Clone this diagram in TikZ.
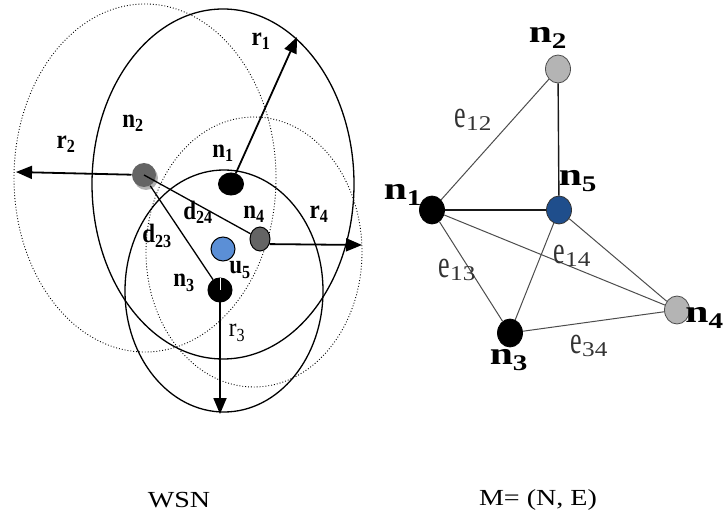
\documentclass[tikz,border=0pt]{standalone}
\usepackage{fontspec}
\setmainfont{Liberation Serif}
\usetikzlibrary{shapes.geometric,arrows.meta}
\definecolor{nodeblue}{HTML}{5B8FD6}
\definecolor{darkblue}{HTML}{1F4E8C}
\definecolor{darkgr}{HTML}{646464}
\definecolor{lightgr}{HTML}{B4B4B4}
\newcommand\mylab[2]{\scalebox{1}[1.15]{\fontsize{23}{24}\selectfont\bfseries #1\textsubscript{#2}}}
\newcommand\mylabr[2]{\scalebox{1}[1.15]{\fontsize{23}{24}\selectfont #1\textsubscript{#2}}}
\newcommand\grlab[2]{\scalebox{1.3}[1]{\fontsize{32}{32}\selectfont\bfseries #1\textsubscript{#2}}}
\newcommand\edlab[1]{\textcolor{black!80}{\scalebox{1}[1.5]{\fontsize{26}{26}\selectfont e}\raisebox{-3pt}{\scalebox{1.2}[1]{\fontsize{21}{22}\selectfont #1}}}}
\newcommand\captxt[1]{\scalebox{1.22}[1]{\fontsize{23}{24}\selectfont #1}}
\begin{document}
\begin{tikzpicture}[x=1pt,y=-1pt,
  rng/.style={line width=1.3pt},
  rngd/.style={line width=0.9pt, dotted},
  arr/.style={line width=1.8pt,-{Triangle[length=16pt,width=13pt]}},
  dl/.style={line width=1.3pt},
  lab/.style={inner sep=0pt},
  sdot/.style={ellipse, draw=black, line width=1pt, inner sep=0pt},
  gdot/.style={ellipse, draw=black!70, line width=0.8pt, inner sep=0pt, minimum width=25pt, minimum height=28pt},
  conn/.style={line width=1pt, draw=black!70}
]
\useasboundingbox (0,0) rectangle (725,521);

% ---- left: ranges ----
\draw[rngd] (145,178) ellipse [x radius=131pt, y radius=174pt];
\draw[rngd] (254,252) ellipse [x radius=108pt, y radius=135pt];
\draw[rng] (223,184) ellipse [x radius=131pt, y radius=175pt];
\draw[rng] (224,291) ellipse [x radius=99pt, y radius=121pt];

% ---- left: sensor nodes ----
\fill[black!30] (146,178) circle [radius=12pt];
\node[sdot, draw=none, fill=darkgr, minimum width=24pt, minimum height=24pt] (n2) at (144,175) {};
\node[sdot, fill=black, minimum width=25pt, minimum height=22pt] (n1) at (231,184) {};
\node[sdot, fill=darkgr, minimum width=20pt, minimum height=24pt] (n4) at (260,239) {};
\node[sdot, fill=nodeblue, minimum width=24pt, minimum height=24pt] (u5) at (223,249) {};
\node[sdot, fill=black, minimum width=24pt, minimum height=24pt] (n3) at (220,290) {};
\draw[white, line width=1pt] (n3.north) -- (n3.south);

\coordinate (r1end) at (297,37);
\coordinate (r2end) at (16,172);
\coordinate (r4end) at (362,245);
\coordinate (r3end) at (220,414);

\draw[arr] (n1) -- (r1end);
\draw[arr] (n2) -- (r2end);
\draw[arr] (n4.-28) -- (r4end);
\draw[arr] (n3.center) -- (r3end);
\draw[dl] (n2.center) -- (n4);
\draw[dl] (n2.-60) -- (n3);

\node[lab] at (261,41) {\mylab{r}{1}};
\node[lab] at (133,123) {\mylab{n}{2}};
\node[lab] at (66,144) {\mylab{r}{2}};
\node[lab] at (223,153) {\mylab{n}{1}};
\node[lab] at (319,214) {\mylab{r}{4}};
\node[lab] at (254,214) {\mylab{n}{4}};
\node[lab] at (198,212) {\mylab{d}{24}};
\node[lab] at (157,236) {\mylab{d}{23}};
\node[lab] at (240,270) {\mylab{u}{5}};
\node[lab] at (184,283) {\mylab{n}{3}};
\node[lab] at (237,333) {\mylabr{r}{3}};

% ---- right: graph ----
\node[gdot, fill=lightgr] (g2) at (558,69) {};
\node[gdot, fill=black, draw=black] (g1) at (432,210) {};
\node[gdot, fill=darkblue, draw=black!80] (g5) at (559,210) {};
\node[gdot, fill=lightgr] (g4) at (677,310) {};
\node[gdot, fill=black, draw=black] (g3) at (510,333) {};

\draw[conn] (g1) -- (g2);
\draw[conn, line width=1.4pt, draw=black!90] (g2) -- (g5);
\draw[conn, line width=1.4pt, draw=black!90] (g1) -- (g5);
\draw[conn] (g1) -- (g3);
\draw[conn] (g1) -- (g4);
\draw[conn] (g5) -- (g3);
\draw[conn] (g5) -- (g4);
\draw[conn] (g3) -- (g4);

\node[lab] at (548,38) {\grlab{n}{2}};
\node[lab] at (403,195) {\grlab{n}{1}};
\node[lab] at (578,181) {\grlab{n}{5}};
\node[lab, anchor=east] at (724,318) {\grlab{n}{4}};
\node[lab] at (509,360) {\grlab{n}{3}};

\node[lab] at (473,120) {\edlab{12}};
\node[lab] at (457,270) {\edlab{13}};
\node[lab] at (572,256) {\edlab{14}};
\node[lab] at (589,346) {\edlab{34}};

% ---- captions ----
\node[lab] at (179,500) {\captxt{WSN}};
\node[lab] at (538,500) {\captxt{M= (N, E)}};
\end{tikzpicture}
\end{document}
